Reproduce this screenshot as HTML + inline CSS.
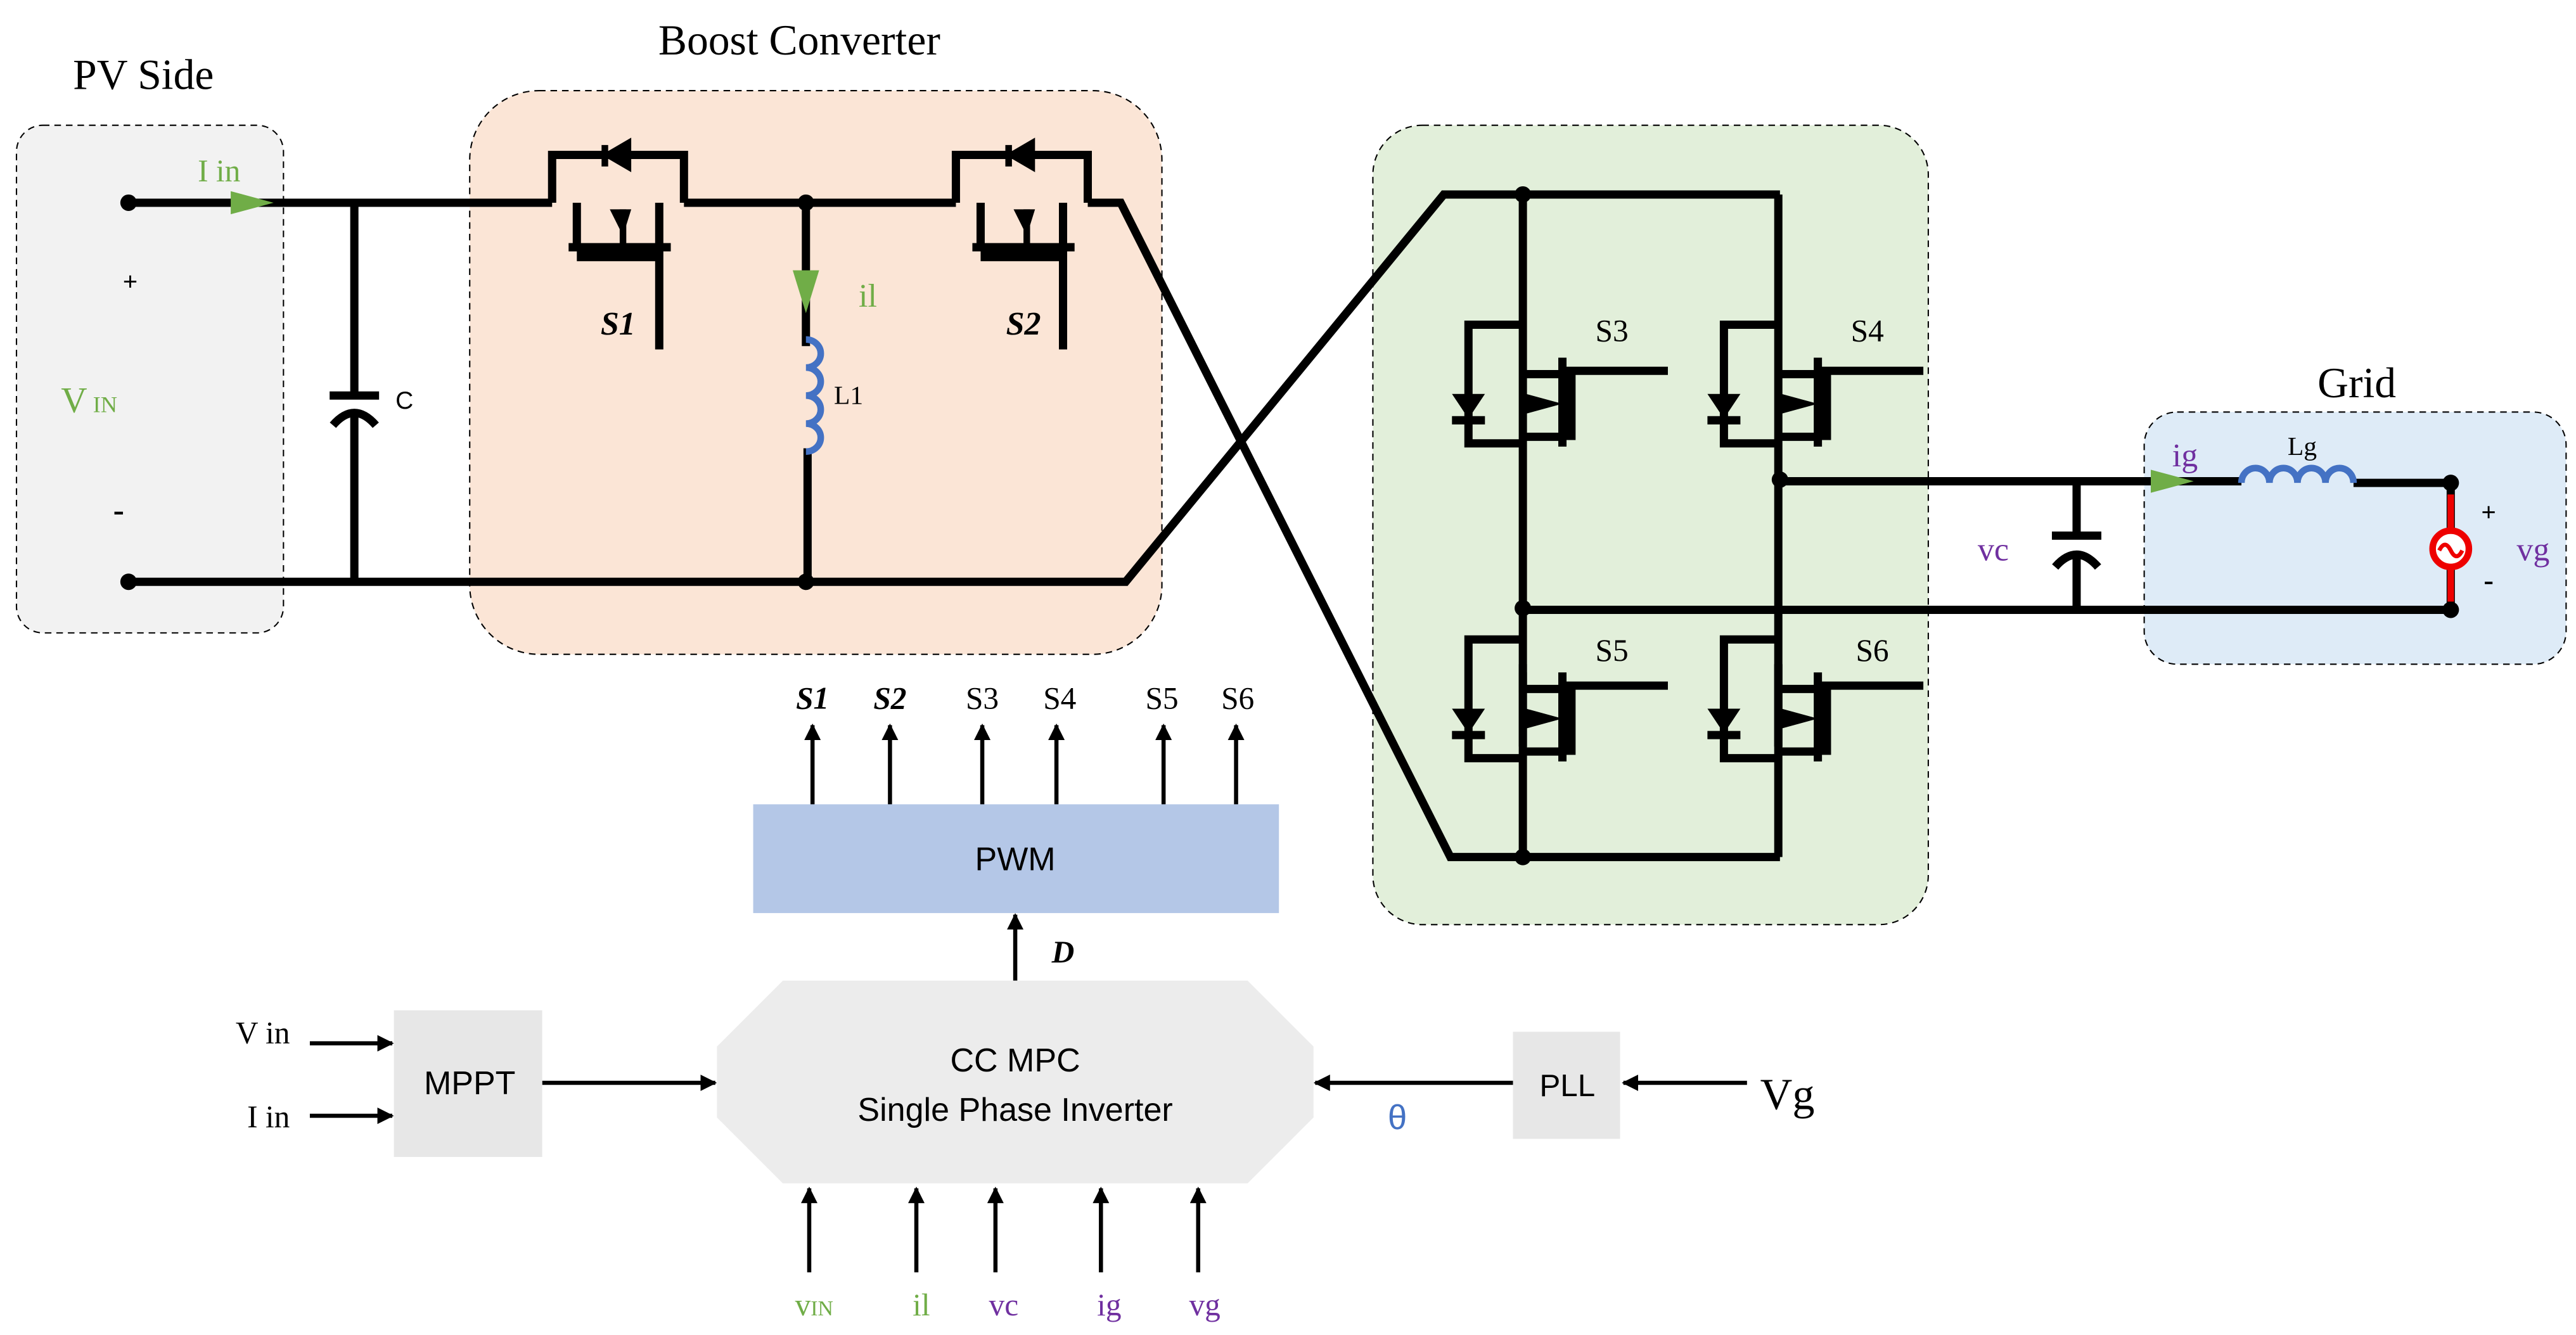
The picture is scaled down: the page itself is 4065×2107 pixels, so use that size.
<!DOCTYPE html>
<html><head><meta charset="utf-8"><style>
html,body{margin:0;padding:0;background:#fff;}
svg{display:block;}
text{font-family:"Liberation Serif",serif;}
.s{font-family:"Liberation Sans",sans-serif;}
</style></head><body>
<svg width="4065" height="2107" viewBox="0 0 1563 810" preserveAspectRatio="none" xmlns="http://www.w3.org/2000/svg">
<defs>
<marker id="ar" markerWidth="10" markerHeight="10" refX="9" refY="5" orient="auto" markerUnits="userSpaceOnUse"><path d="M0,0 L10,5 L0,10 z" fill="#000"/></marker>
<g id="mos">
 <path d="M0,0 V-29 H80 V0" fill="none" stroke="#000" stroke-width="5"/>
 <path d="M32,-35 V-22 M34,-29 L46,-36 V-22 Z" fill="#000" stroke="#000" stroke-width="4"/>
 <path d="M15,0 V27 M65,0 V27" stroke="#000" stroke-width="5"/>
 <path d="M10,27 H72" stroke="#000" stroke-width="5"/>
 <path d="M15,32 H65" stroke="#000" stroke-width="7"/>
 <path d="M35,4 L48,4 L43,20 Z" fill="#000"/>
 <path d="M43,4 V27" stroke="#000" stroke-width="4"/>
 <path d="M65,27 V89" stroke="#000" stroke-width="5"/>
</g>
<g id="igbt">
 <path d="M0,-10 H-33 V62 H0" fill="none" stroke="#000" stroke-width="5"/>
 <path d="M-43,32 H-23 L-33,47 Z" fill="#000"/>
 <path d="M-43,48 H-23" stroke="#000" stroke-width="5"/>
 <path d="M0,20 H24 M0,70 H0" stroke="#000" stroke-width="5"/>
 <path d="M24,10 V64" stroke="#000" stroke-width="5"/>
 <path d="M28,16 V60" stroke="#000" stroke-width="8"/>
 <path d="M24,18 H88" stroke="#000" stroke-width="5"/>
 <path d="M24,58 H0" stroke="#000" stroke-width="5"/>
 <path d="M2,32 L24,38 L2,44 Z" fill="#000"/>
</g>
</defs>
<!-- boxes -->
<rect x="10" y="76" width="162" height="308" rx="16" fill="#f2f2f2" stroke="#000" stroke-width="0.8" stroke-dasharray="4,3"/>
<rect x="285" y="55" width="420" height="342" rx="42" fill="#fbe5d6" stroke="#000" stroke-width="0.8" stroke-dasharray="4,3"/>
<rect x="833" y="76" width="337" height="485" rx="30" fill="#e2efda" stroke="#000" stroke-width="0.8" stroke-dasharray="4,3"/>
<rect x="1301" y="250" width="256" height="153" rx="20" fill="#deebf7" stroke="#000" stroke-width="0.8" stroke-dasharray="4,3"/>
<text x="87" y="54" font-size="26" text-anchor="middle">PV Side</text>
<text x="485" y="33" font-size="26" text-anchor="middle">Boost Converter</text>
<text x="1430" y="241" font-size="26" text-anchor="middle">Grid</text>
<!-- PV side -->
<path d="M78,123 H335 M415,123 H580 M660,123 H680 L880,520 H1080 M78,353 H683 L876,118 H1080" fill="none" stroke="#000" stroke-width="5"/>
<circle cx="78" cy="123" r="5"/><circle cx="78" cy="353" r="5"/>
<path d="M140,116 L166,123 L140,130 Z" fill="#70ad47"/>
<text x="120" y="110" font-size="19" fill="#70ad47">I in</text>
<text x="79" y="176" font-size="16" font-weight="bold" text-anchor="middle">+</text>
<text x="72" y="316" font-size="20" font-weight="bold" text-anchor="middle">-</text>
<text x="37" y="250" font-size="22" fill="#70ad47">V<tspan font-size="14"> IN</tspan></text>
<path d="M215,123 V240 M215,252 V353" stroke="#000" stroke-width="5"/>
<path d="M200,240 H230" stroke="#000" stroke-width="5"/>
<path d="M202,258 Q215,243 228,258" fill="none" stroke="#000" stroke-width="5"/>
<text x="240" y="248" font-size="15" class="s">C</text>
<!-- boost switches -->
<use href="#mos" x="335" y="123"/>
<use href="#mos" x="580" y="123"/>
<text x="375" y="203" font-size="20" font-style="italic" font-weight="bold" text-anchor="middle">S1</text>
<text x="621" y="203" font-size="20" font-style="italic" font-weight="bold" text-anchor="middle">S2</text>
<circle cx="489" cy="123" r="5"/><circle cx="489" cy="353" r="5"/>
<path d="M489,123 V210 M490,272 V353" stroke="#000" stroke-width="5"/>
<path d="M481,164 H497 L489,190 Z" fill="#70ad47"/>
<text x="521" y="186" font-size="20" fill="#70ad47">il</text>
<path d="M489,206 a9,8.5 0 0 1 0,17 a9,8.5 0 0 1 0,17 a9,8.5 0 0 1 0,17 a9,8.5 0 0 1 0,17" fill="none" stroke="#4472c4" stroke-width="4"/>
<text x="506" y="245" font-size="16">L1</text>
<!-- inverter -->
<path d="M924,118 V212 M924,262 V520 M1079,118 V212 M1079,262 V520" stroke="#000" stroke-width="5"/>
<path d="M924,408 V420" stroke="#000" stroke-width="5"/>
<use href="#igbt" x="924" y="207"/>
<use href="#igbt" x="1079" y="207"/>
<use href="#igbt" x="924" y="398"/>
<use href="#igbt" x="1079" y="398"/>
<path d="M924,212 V262 M1079,212 V262 M924,403 V453 M1079,403 V453" stroke="#000" stroke-width="5"/>
<text x="968" y="207" font-size="19">S3</text>
<text x="1123" y="207" font-size="19">S4</text>
<text x="968" y="401" font-size="19">S5</text>
<text x="1126" y="401" font-size="19">S6</text>
<circle cx="924" cy="118" r="5"/><circle cx="924" cy="520" r="5"/><circle cx="924" cy="369" r="5"/><circle cx="1080" cy="291" r="5"/>
<!-- grid connection -->
<path d="M1080,292 H1360 M1428,293 H1487 V370 H924" fill="none" stroke="#000" stroke-width="5"/>
<path d="M1260,292 V325 M1260,338 V370" stroke="#000" stroke-width="5"/>
<path d="M1245,325 H1275" stroke="#000" stroke-width="5"/>
<path d="M1247,344 Q1260,329 1273,344" fill="none" stroke="#000" stroke-width="5"/>
<text x="1200" y="340" font-size="20" fill="#7030a0">vc</text>
<path d="M1305,285 L1331,292 L1305,299 Z" fill="#70ad47"/>
<text x="1318" y="283" font-size="20" fill="#7030a0">ig</text>
<path d="M1360,293 a8.5,9 0 0 1 17,0 a8.5,9 0 0 1 17,0 a8.5,9 0 0 1 17,0 a8.5,9 0 0 1 17,0" fill="none" stroke="#4472c4" stroke-width="4"/>
<text x="1388" y="276" font-size="16">Lg</text>
<path d="M1487,300 V365" stroke="#e00" stroke-width="4"/>
<circle cx="1487" cy="333" r="11" fill="#fff" stroke="#e00" stroke-width="4"/>
<path d="M1480,334 q3.5,-7 7,0 t7,0" fill="none" stroke="#e00" stroke-width="2.5"/>
<circle cx="1487" cy="293" r="5"/><circle cx="1487" cy="370" r="5"/>
<text x="1510" y="316" font-size="16" font-weight="bold" text-anchor="middle">+</text>
<text x="1510" y="358" font-size="18" font-weight="bold" text-anchor="middle">-</text>
<text x="1527" y="340" font-size="20" fill="#7030a0">vg</text>
<!-- PWM -->
<rect x="457" y="488" width="319" height="66" fill="#b4c7e7"/>
<text x="616" y="528" font-size="20" class="s" text-anchor="middle">PWM</text>
<g stroke="#000" stroke-width="2.5" marker-end="url(#ar)">
<path d="M493,488 V440"/><path d="M540,488 V440"/><path d="M596,488 V440"/><path d="M641,488 V440"/><path d="M706,488 V440"/><path d="M750,488 V440"/>
<path d="M616,595 V555"/>
<path d="M188,633 H238"/><path d="M188,677 H238"/>
<path d="M329,657 H434"/>
<path d="M918,657 H798"/>
<path d="M1060,657 H985"/>
<path d="M491,772 V721"/><path d="M556,772 V721"/><path d="M604,772 V721"/><path d="M668,772 V721"/><path d="M727,772 V721"/>
</g>
<g font-size="19" text-anchor="middle">
<text x="493" y="430" font-style="italic" font-weight="bold">S1</text>
<text x="540" y="430" font-style="italic" font-weight="bold">S2</text>
<text x="596" y="430">S3</text><text x="643" y="430">S4</text><text x="705" y="430">S5</text><text x="751" y="430">S6</text>
</g>
<text x="645" y="584" font-size="19" font-style="italic" font-weight="bold" text-anchor="middle">D</text>
<path d="M475,595 H757 L797,635 V678 L757,718 H475 L435,678 V635 Z" fill="#ececec"/>
<text x="616" y="650" font-size="20" class="s" text-anchor="middle">CC MPC</text>
<text x="616" y="680" font-size="20" class="s" text-anchor="middle">Single Phase Inverter</text>
<rect x="239" y="613" width="90" height="89" fill="#e7e7e7"/>
<text x="285" y="664" font-size="20" class="s" text-anchor="middle">MPPT</text>
<rect x="918" y="626" width="65" height="65" fill="#e7e7e7"/>
<text x="951" y="665" font-size="19" class="s" text-anchor="middle">PLL</text>
<text x="143" y="633" font-size="19">V in</text>
<text x="150" y="684" font-size="19">I in</text>
<text x="1068" y="673" font-size="27">Vg</text>
<text x="842" y="685" font-size="21" fill="#4472c4" class="s">θ</text>
<g font-size="19" text-anchor="middle">
<text x="494" y="798" fill="#70ad47">v<tspan font-size="13">IN</tspan></text>
<text x="559" y="798" fill="#70ad47">il</text>
<text x="609" y="798" fill="#7030a0">vc</text>
<text x="673" y="798" fill="#7030a0">ig</text>
<text x="731" y="798" fill="#7030a0">vg</text>
</g>
</svg>
</body></html>
